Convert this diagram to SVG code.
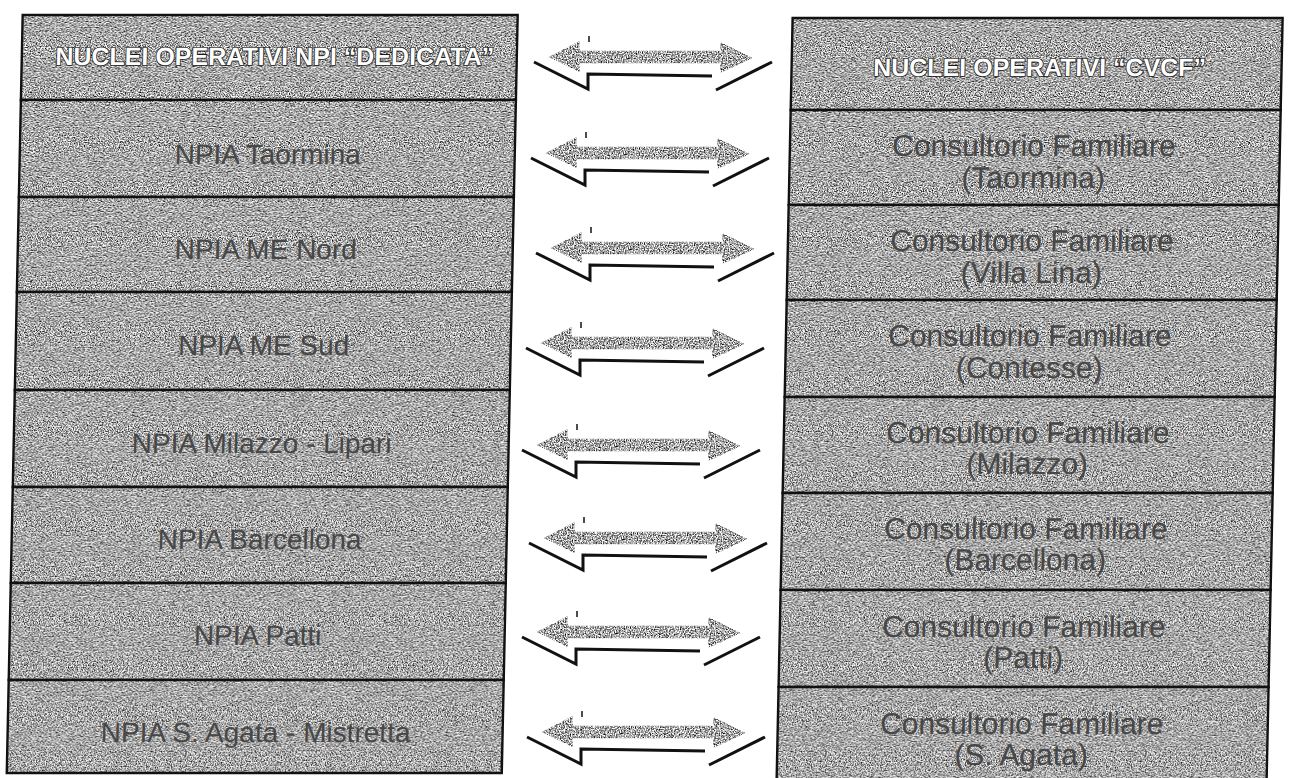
<svg xmlns="http://www.w3.org/2000/svg" xmlns:xlink="http://www.w3.org/1999/xlink" width="1296" height="778" viewBox="0 0 1296 778">
<style>
  .fill { fill: #a0a0a0; filter: url(#grain); }
  .cell { fill: none; stroke: #111; stroke-width: 2.4; }
  .hdr { font-family: "Liberation Sans", Arial, sans-serif; font-weight: bold; font-size: 25px; fill: #ffffff; stroke: #1a1a1a; stroke-width: 1.6; paint-order: stroke; text-anchor: middle; }
  .lt { font-family: "Liberation Sans", Arial, sans-serif; font-size: 28px; fill: #474747; text-anchor: middle; }
  .rt { font-family: "Liberation Sans", Arial, sans-serif; font-size: 30px; fill: #474747; text-anchor: middle; }
  .arw { fill: #9c9c9c; stroke: #333; stroke-width: 1.3; stroke-linejoin: miter; filter: url(#grain2); }
  .shd { fill: none; stroke: #111; stroke-width: 3; stroke-linejoin: miter; }
</style>
<defs>
  <filter id="grain" x="0" y="0" width="1" height="1" color-interpolation-filters="sRGB">
    <feTurbulence type="fractalNoise" baseFrequency="0.8" numOctaves="2" seed="7" result="n"/>
    <feColorMatrix in="n" type="matrix" values="2.1 0 0 0 -0.39  2.1 0 0 0 -0.39  2.1 0 0 0 -0.39  0 0 0 0 1" result="g"/>
    <feComposite in="g" in2="SourceGraphic" operator="in"/>
  </filter>
  <filter id="grain2" x="-0.05" y="-0.2" width="1.1" height="1.4" color-interpolation-filters="sRGB">
    <feTurbulence type="fractalNoise" baseFrequency="0.8" numOctaves="2" seed="3" result="n"/>
    <feColorMatrix in="n" type="matrix" values="2.1 0 0 0 -0.39  2.1 0 0 0 -0.39  2.1 0 0 0 -0.39  0 0 0 0 1" result="g"/>
    <feComposite in="g" in2="SourceGraphic" operator="in"/>
  </filter>
  <g id="darrow">
    <polygon class="arw" points="0,0 29,-15 29,-5.5 171,-5.5 171,-14 201,1 171,15 171,5.5 29,5.5 29,14"/>
    <polyline class="shd" points="-16,5 38,32 38,17 162,19"/>
    <line class="shd" x1="166" y1="33" x2="222" y2="5"/>
    <line x1="39" y1="-21" x2="39" y2="-15" stroke="#111" stroke-width="1.5"/>
  </g>
</defs>
<rect width="1296" height="778" fill="#ffffff"/>

<g id="left-table" transform="matrix(1 0 -0.021 1 0 0)">
  <g id="l-header"><rect class="fill" x="23" y="15" width="495" height="85"/><rect class="cell" x="23" y="15" width="495" height="85"/><text class="hdr" x="276" y="65">NUCLEI OPERATIVI NPI “DEDICATA”</text></g>
  <g id="l-taormina"><rect class="fill" x="23" y="100" width="495" height="97"/><rect class="cell" x="23" y="100" width="495" height="97"/><text class="lt" x="271" y="164">NPIA Taormina</text></g>
  <g id="l-menord"><rect class="fill" x="23" y="197" width="495" height="95"/><rect class="cell" x="23" y="197" width="495" height="95"/><text class="lt" x="271" y="259">NPIA ME Nord</text></g>
  <g id="l-mesud"><rect class="fill" x="23" y="292" width="495" height="98"/><rect class="cell" x="23" y="292" width="495" height="98"/><text class="lt" x="271" y="355">NPIA ME Sud</text></g>
  <g id="l-milazzo"><rect class="fill" x="23" y="390" width="495" height="97"/><rect class="cell" x="23" y="390" width="495" height="97"/><text class="lt" x="271" y="453">NPIA Milazzo - Lipari</text></g>
  <g id="l-barcellona"><rect class="fill" x="23" y="487" width="495" height="96"/><rect class="cell" x="23" y="487" width="495" height="96"/><text class="lt" x="271" y="549">NPIA Barcellona</text></g>
  <g id="l-patti"><rect class="fill" x="23" y="583" width="495" height="97"/><rect class="cell" x="23" y="583" width="495" height="97"/><text class="lt" x="271" y="645">NPIA Patti</text></g>
  <g id="l-sagata"><rect class="fill" x="23" y="680" width="495" height="93"/><rect class="cell" x="23" y="680" width="495" height="93"/><text class="lt" x="271" y="742">NPIA S. Agata - Mistretta</text></g>
</g>

<g id="right-table" transform="matrix(1 0 -0.021 1 0 0)">
  <g id="r-header"><rect class="fill" x="793" y="18" width="490" height="92"/><rect class="cell" x="793" y="18" width="490" height="92"/><text class="hdr" x="1041" y="76">NUCLEI OPERATIVI “CVCF”</text></g>
  <g id="r-taormina"><rect class="fill" x="793" y="110" width="490" height="95"/><rect class="cell" x="793" y="110" width="490" height="95"/><text class="rt" x="1037" y="156">Consultorio Familiare</text><text class="rt" x="1037" y="188">(Taormina)</text></g>
  <g id="r-villalina"><rect class="fill" x="793" y="205" width="490" height="95"/><rect class="cell" x="793" y="205" width="490" height="95"/><text class="rt" x="1037" y="251">Consultorio Familiare</text><text class="rt" x="1037" y="283">(Villa Lina)</text></g>
  <g id="r-contesse"><rect class="fill" x="793" y="300" width="490" height="97"/><rect class="cell" x="793" y="300" width="490" height="97"/><text class="rt" x="1037" y="346">Consultorio Familiare</text><text class="rt" x="1037" y="378">(Contesse)</text></g>
  <g id="r-milazzo"><rect class="fill" x="793" y="397" width="490" height="96"/><rect class="cell" x="793" y="397" width="490" height="96"/><text class="rt" x="1037" y="443">Consultorio Familiare</text><text class="rt" x="1037" y="474">(Milazzo)</text></g>
  <g id="r-barcellona"><rect class="fill" x="793" y="493" width="490" height="97"/><rect class="cell" x="793" y="493" width="490" height="97"/><text class="rt" x="1037" y="539">Consultorio Familiare</text><text class="rt" x="1037" y="570">(Barcellona)</text></g>
  <g id="r-patti"><rect class="fill" x="793" y="590" width="490" height="97"/><rect class="cell" x="793" y="590" width="490" height="97"/><text class="rt" x="1037" y="637">Consultorio Familiare</text><text class="rt" x="1037" y="668">(Patti)</text></g>
  <g id="r-sagata"><rect class="fill" x="793" y="687" width="490" height="95"/><rect class="cell" x="793" y="687" width="490" height="95"/><text class="rt" x="1037" y="734">Consultorio Familiare</text><text class="rt" x="1037" y="765">(S. Agata)</text></g>
</g>

<g id="connectors">
  <use xlink:href="#darrow" href="#darrow" transform="translate(550,57)"/>
  <use xlink:href="#darrow" href="#darrow" transform="translate(547,153)"/>
  <use xlink:href="#darrow" href="#darrow" transform="translate(552,248)"/>
  <use xlink:href="#darrow" href="#darrow" transform="translate(542,343)"/>
  <use xlink:href="#darrow" href="#darrow" transform="translate(538,445)"/>
  <use xlink:href="#darrow" href="#darrow" transform="translate(545,538)"/>
  <use xlink:href="#darrow" href="#darrow" transform="translate(538,632)"/>
  <use xlink:href="#darrow" href="#darrow" transform="translate(543,732)"/>
</g>
</svg>
